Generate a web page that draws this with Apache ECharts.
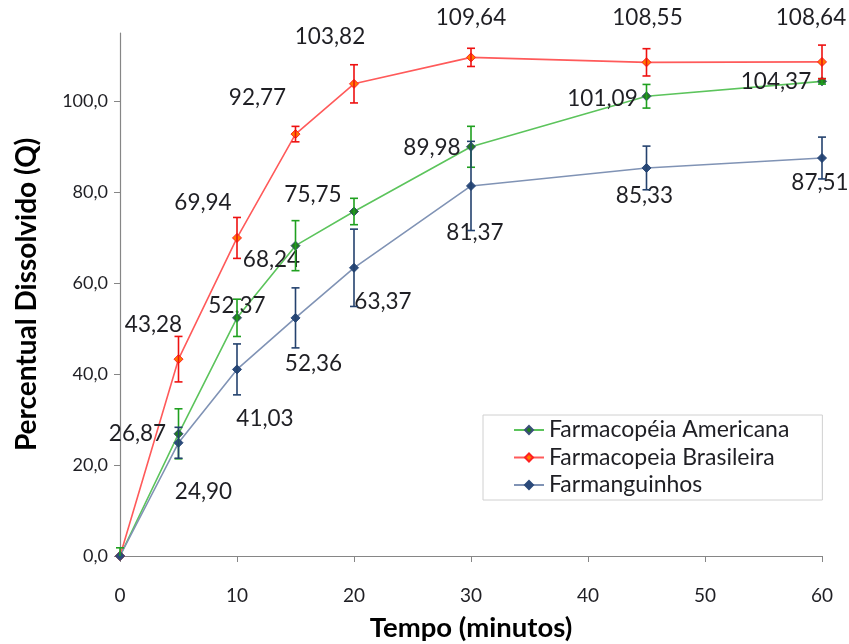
<!DOCTYPE html>
<html>
<head>
<meta charset="utf-8">
<script src="https://cdn.jsdelivr.net/npm/echarts@6/dist/echarts.min.js"></script>
<style>
  html, body { margin: 0; padding: 0; background: #ffffff; }
  #chart { width: 849px; height: 644px; }
</style>
</head>
<body>
<div id="chart"></div>
<script>
// Tempo de coleta (minutos)
const tempos = [0, 5, 10, 15, 20, 30, 45, 60];

// Percentual dissolvido médio por método
const americana = [0, 26.87, 52.37, 68.24, 75.75, 89.98, 101.09, 104.37];
const brasileira = [0, 43.28, 69.94, 92.77, 103.82, 109.64, 108.55, 108.64];
const farmanguinhos = [0, 24.90, 41.03, 52.36, 63.37, 81.37, 85.33, 87.51];

// Desvio padrão (barras de erro)
const americanaDP = [1.8, 5.5, 4.1, 5.5, 2.9, 4.5, 2.6, 0.6];
const brasileiraDP = [0, 5.0, 4.5, 1.7, 4.2, 2.0, 3.0, 3.7];
const farmanguinhosDP = [0, 3.4, 5.6, 6.6, 8.5, 9.8, 4.8, 4.6];

// Deslocamento dos rótulos em relação ao ponto (px)
const americanaRot = [null, [-41, 0], [0, -12], [-24, 14], [-41, -17], [-39, 1], [-44, 2], [-46, 0]];
const brasileiraRot = [null, [-25, -34], [-34, -35], [-38, -36], [-24, -47], [0, -40], [1, -45], [-11, -44]];
const farmanguinhosRot = [null, [25, 49], [28, 49], [18, 46], [29, 34], [4, 47], [-2, 28], [-2, 25]];

const FONT = 'Lato';
const fmt = v => v.toFixed(2).replace('.', ',');

function pontos(valores, rotulos) {
  return valores.map((v, i) => {
    const item = { value: [tempos[i], v] };
    if (rotulos[i]) {
      item.label = { show: true, position: 'inside', offset: rotulos[i] };
    } else {
      item.label = { show: false };
    }
    return item;
  });
}

function serieLinha(nome, valores, rotulos, corLinha, corMarca, corBorda) {
  return {
    name: nome,
    type: 'line',
    data: pontos(valores, rotulos),
    symbol: 'diamond',
    symbolSize: 9,
    lineStyle: { color: corLinha, width: 1.6 },
    itemStyle: { color: corMarca, borderColor: corBorda, borderWidth: 1 },
    label: {
      formatter: p => fmt(p.value[1]),
      color: '#1f1f24',
      fontFamily: FONT,
      fontSize: 22.5
    },
    emphasis: { disabled: true },
    animation: false,
    z: 3
  };
}

// Barras de erro verticais com traços nas extremidades; a parte abaixo de 0 não é desenhada
function serieErro(valores, desvios, cor) {
  return {
    type: 'custom',
    data: valores.map((v, i) => [tempos[i], v - desvios[i], v + desvios[i], desvios[i]]),
    renderItem: (params, api) => {
      if (api.value(3) === 0) return null;
      const x = api.value(0);
      const minY = 0;
      const cortado = api.value(1) < minY;
      const baixo = api.coord([x, Math.max(api.value(1), minY)]);
      const alto = api.coord([x, api.value(2)]);
      const meia = 4;
      const estilo = { stroke: cor, lineWidth: 1.6 };
      const partes = [
        { type: 'line', shape: { x1: alto[0], y1: alto[1], x2: baixo[0], y2: baixo[1] }, style: estilo },
        { type: 'line', shape: { x1: alto[0] - meia, y1: alto[1], x2: alto[0] + meia, y2: alto[1] }, style: estilo }
      ];
      if (!cortado) {
        partes.push({ type: 'line', shape: { x1: baixo[0] - meia, y1: baixo[1], x2: baixo[0] + meia, y2: baixo[1] }, style: estilo });
      }
      return { type: 'group', children: partes };
    },
    clip: false,
    silent: true,
    animation: false,
    z: 4
  };
}

const chart = echarts.init(document.getElementById('chart'), null, { renderer: 'canvas' });

chart.setOption({
  backgroundColor: '#ffffff',
  animation: false,
  grid: { left: 120, right: 27, top: 33, bottom: 88, containLabel: false, outerBoundsMode: 'none' },
  xAxis: {
    type: 'value',
    min: 0,
    max: 60,
    interval: 10,
    name: 'Tempo (minutos)',
    nameLocation: 'middle',
    nameGap: 58,
    nameTextStyle: { fontFamily: FONT, fontWeight: 'bold', fontSize: 27.5, color: '#000000' },
    axisLine: { lineStyle: { color: '#868686', width: 1.2 } },
    axisTick: { show: true, inside: false, length: 6, lineStyle: { color: '#868686' } },
    axisLabel: { fontFamily: FONT, fontSize: 19, color: '#1f1f24', margin: 30 },
    splitLine: { show: false }
  },
  yAxis: {
    type: 'value',
    min: 0,
    max: 115,
    interval: 20,
    name: 'Percentual Dissolvido (Q)',
    nameLocation: 'middle',
    nameRotate: 90,
    nameGap: 79,
    nameTextStyle: { fontFamily: FONT, fontWeight: 'bold', fontSize: 28, color: '#000000' },
    axisLine: { show: true, lineStyle: { color: '#868686', width: 1.2 } },
    axisTick: { show: true, length: 6, lineStyle: { color: '#868686' }, customValues: [0, 20, 40, 60, 80, 100] },
    axisLabel: {
      fontFamily: FONT, fontSize: 18, color: '#1f1f24', margin: 12,
      customValues: [0, 20, 40, 60, 80, 100],
      formatter: v => v.toFixed(1).replace('.', ',')
    },
    splitLine: { show: false }
  },
  legend: {
    orient: 'vertical',
    left: 483,
    top: 415,
    padding: [2, 33, 2, 30],
    itemGap: 1.5,
    itemWidth: 30,
    itemHeight: 10,
    borderColor: '#d0d0d0',
    borderWidth: 1,
    backgroundColor: '#ffffff',
    textStyle: { fontFamily: FONT, fontSize: 23, color: '#1f1f24', lineHeight: 26 },
    data: ['Farmacopéia Americana', 'Farmacopeia Brasileira', 'Farmanguinhos']
  },
  series: [
    serieLinha('Farmacopéia Americana', americana, americanaRot, '#5cc45c', '#217a21', '#3b4f7a'),
    serieLinha('Farmacopeia Brasileira', brasileira, brasileiraRot, '#ff5a5a', '#ff7a00', '#ff2020'),
    serieLinha('Farmanguinhos', farmanguinhos, farmanguinhosRot, '#8093b5', '#2b4a7a', '#2b4a7a'),
    serieErro(americana, americanaDP, '#1fa01f'),
    serieErro(brasileira, brasileiraDP, '#ee1111'),
    serieErro(farmanguinhos, farmanguinhosDP, '#24426e')
  ]
});
</script>
</body>
</html>
